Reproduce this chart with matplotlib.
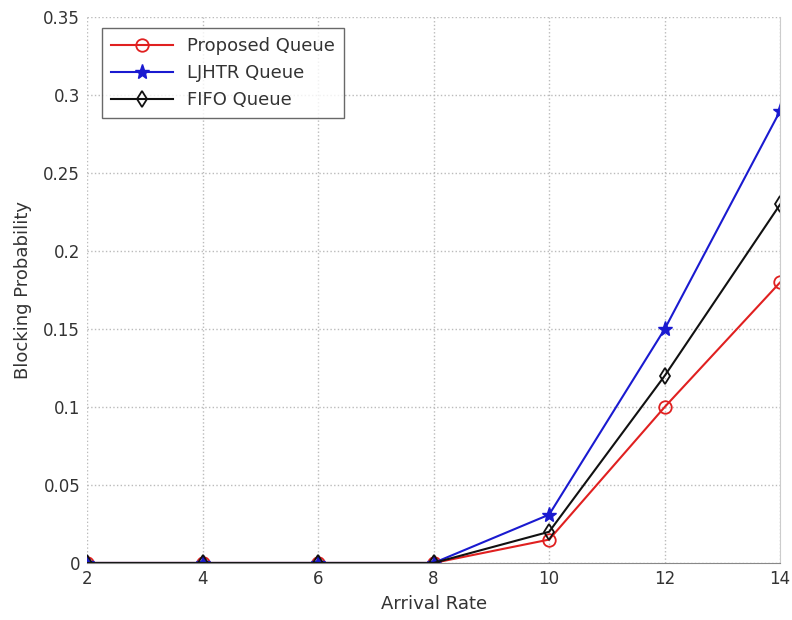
import numpy as np
import matplotlib
matplotlib.use('Agg')
import matplotlib.pyplot as plt

# Blocking probability vs arrival rate
arrival_rate = [2, 4, 6, 8, 10, 12, 14]
proposed = [0, 0, 0, 0, 0.015, 0.10, 0.18]
ljhtr = [0, 0, 0, 0, 0.031, 0.15, 0.29]
fifo = [0, 0, 0, 0, 0.020, 0.12, 0.23]

fig = plt.figure(figsize=(7.92, 6.2), dpi=100)
ax = fig.add_axes([0.110, 0.092, 0.875, 0.880])

ax.plot(arrival_rate, proposed, color='#e02020', marker='o', markersize=9,
        markerfacecolor='none', markeredgewidth=1.3, linewidth=1.5, label='Proposed Queue')
ax.plot(arrival_rate, ljhtr, color='#1a1ad0', marker='*', markersize=11,
        markeredgewidth=1.0, linewidth=1.5, label='LJHTR Queue')
ax.plot(arrival_rate, fifo, color='#111111', marker='d', markersize=8,
        markerfacecolor='none', markeredgewidth=1.3, linewidth=1.5, label='FIFO Queue')

ax.set_xlim(2, 14)
ax.set_ylim(0, 0.35)
ax.set_xticks(arrival_rate)
ax.set_yticks([0, 0.05, 0.1, 0.15, 0.2, 0.25, 0.3, 0.35])
ax.set_yticklabels(['0', '0.05', '0.1', '0.15', '0.2', '0.25', '0.3', '0.35'])
ax.tick_params(labelsize=12, colors='#333333', length=0, pad=5)

ax.grid(True, linestyle=':', color='#bbbbbb', linewidth=1.0)
for side in ['top', 'left']:
    ax.spines[side].set_visible(False)
ax.spines['right'].set_color('#cccccc')
ax.spines['bottom'].set_color('#888888')

ax.set_xlabel('Arrival Rate', fontsize=13, color='#333333', labelpad=5)
ax.set_ylabel('Blocking Probability', fontsize=13, color='#333333', labelpad=8)

leg = ax.legend(loc='upper left', fontsize=13, frameon=True, fancybox=False,
                bbox_to_anchor=(0.022, 0.98), borderaxespad=0.0,
                handlelength=3.4, handletextpad=0.8, labelspacing=0.5,
                borderpad=0.5)
leg.get_frame().set_edgecolor('#444444')
leg.get_frame().set_linewidth(1.0)
for t in leg.get_texts():
    t.set_color('#333333')

fig.savefig('out.png', dpi=100)
